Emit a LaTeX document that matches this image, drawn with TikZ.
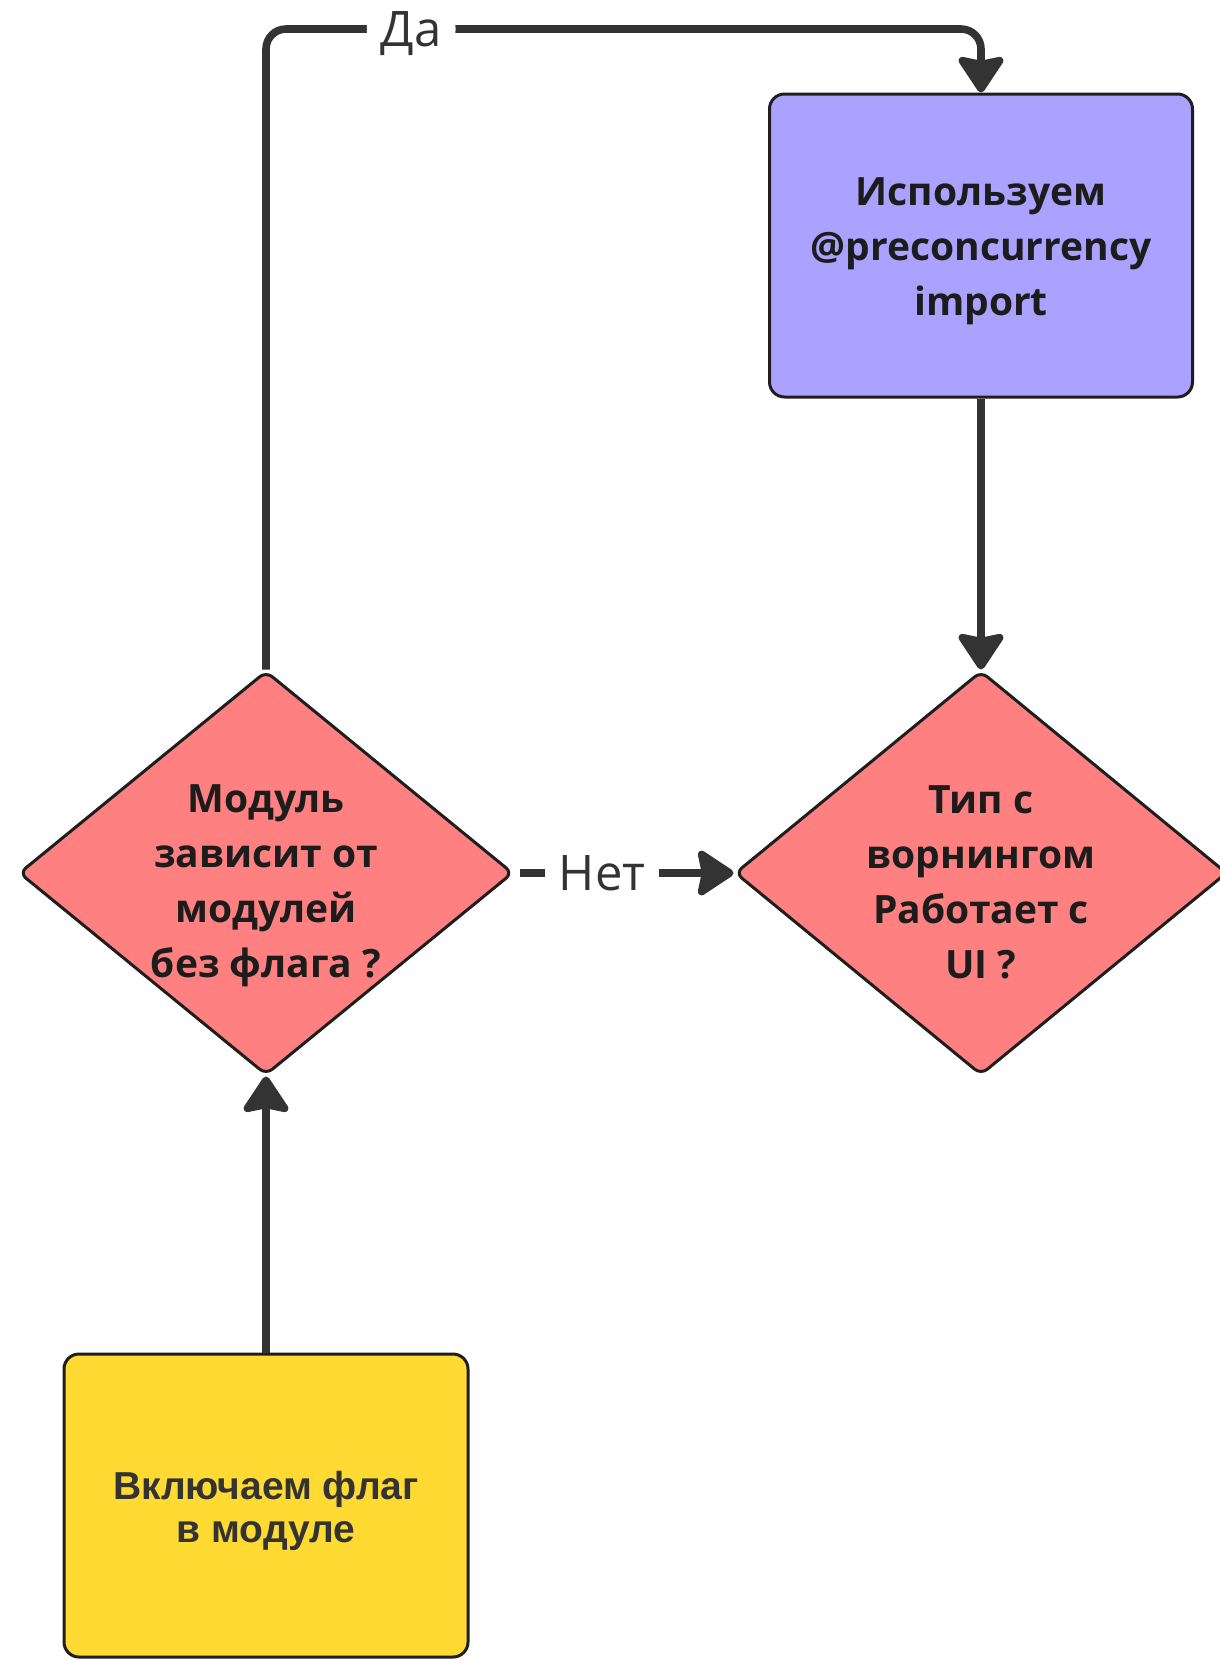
\documentclass[tikz,border=0pt]{standalone}
\usepackage{fontspec}
\setmainfont{Open Sans}
\newfontfamily\flagfont{Liberation Sans}
\usetikzlibrary{shapes.geometric,arrows.meta}

\definecolor{lineclr}{HTML}{333333}
\definecolor{edgeclr}{HTML}{1E1E1E}
\definecolor{textclr}{HTML}{1C1C1C}
\definecolor{useclr}{HTML}{ABA2FF}
\definecolor{askclr}{HTML}{FF8080}
\definecolor{flagclr}{HTML}{FFDA33}

\begin{document}
\begin{tikzpicture}[x=0.5pt,y=-0.5pt,
  box/.style={draw=edgeclr, line width=1.5pt, rounded corners=7.5pt, inner sep=0pt},
  decision/.style={diamond, draw=edgeclr, fill=askclr, line width=1.5pt,
    rounded corners=4pt, inner sep=0pt, minimum width=247pt, minimum height=202pt},
  flow/.style={draw=lineclr, line width=3.8pt,
    -{Stealth[length=20pt,width=26pt,inset=2.5pt,round]}},
  caption/.style={fill=white, text=lineclr, font=\fontsize{24.5}{28}\selectfont,
    inner xsep=7pt, inner ysep=2pt, text height=17.5pt, text depth=0pt},
  boldtxt/.style={text=textclr, align=center,
    font=\bfseries\fontsize{19.5}{27.5}\selectfont},
  flagtxt/.style={text=lineclr, align=center,
    font=\flagfont\bfseries\fontsize{19.5}{21.2}\selectfont}]

\useasboundingbox (0,0) rectangle (1220,1660);

% boxes
\node[box, fill=useclr, minimum width=211.5pt, minimum height=151.5pt] (use) at (981,245.5) {};
\node[box, fill=flagclr, minimum width=202pt, minimum height=151.5pt] (flag) at (266,1505.5) {};

% decisions
\node[decision] (q1) at (266,873) {};
\node[decision, minimum width=246pt] (q2) at (981,873) {};

% texts
\node[boldtxt] (usetxt) at (981,251) {Используем\\@preconcurrency\\import};
\node[boldtxt] (q1txt) at (266,886) {Модуль\\зависит от\\модулей\\без флага ?};
\node[boldtxt] (q2txt) at (981,882) {Тип с\\ворнингом\\Работает с\\UI ?};
\node[flagtxt] (flagtxt) at (266,1511) {Включаем флаг\\в модуле};

% corner points of the upper route
\coordinate (tl) at (266,29);
\coordinate (tr) at (981,29);

% connectors
\draw[flow] (flag.north) -- (q1.south);
\draw[flow, rounded corners=10pt] (q1.north) -- (tl) -- node[caption, pos=0.203] (yes) {Да} (tr) -- (use.north);
\draw[flow] (use.south) -- (q2.north);
\draw[flow, shorten <=2.5pt] (q1.east) -- node[caption, pos=0.4] (no) {Нет} (q2.west);

\end{tikzpicture}
\end{document}
